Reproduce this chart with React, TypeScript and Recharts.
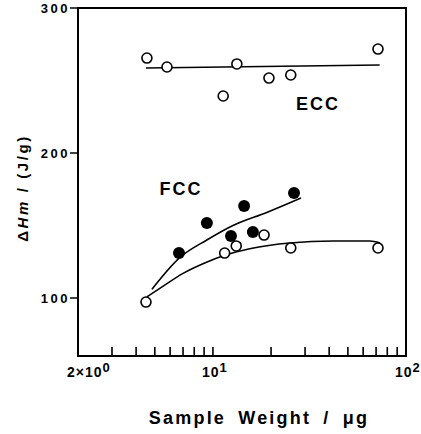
import React from "react";
import {
  ComposedChart,
  XAxis,
  YAxis,
  Scatter,
  Line,
  ReferenceArea,
} from "recharts";

// ECC (open circles, upper group)
const eccX = [4.55, 5.78, 11.3, 13.3, 19.5, 25.3, 71.6];
const eccY = [265.5, 259.3, 239.3, 261.4, 251.7, 253.8, 271.7];
const eccFitX = [4.5, 73];
const eccFitY = [258.6, 260.7];

// FCC (filled circles)
const fccX = [6.67, 9.3, 12.4, 14.5, 16.1, 26.3];
const fccY = [131, 151.7, 142.8, 163.4, 145.5, 172.4];
const fccFitX = [4.83, 6.75, 9.3, 12.7, 19.0, 28.6];
const fccFitY = [106, 128, 140, 150, 159, 169];

// lower open circles
const lowX = [4.5, 11.5, 13.2, 18.4, 25.3, 71.6];
const lowY = [97.2, 131, 135.9, 143.4, 134.5, 134.5];
const lowFitX = [4.55, 5.5, 7, 9, 11.5, 15.5, 25, 42, 65, 73.4];
const lowFitY = [100.7, 108, 117, 124, 129.5, 134, 138, 139.3, 139.3, 138];

const xTicks = [2, 3, 4, 5, 6, 7, 8, 9, 10, 20, 30, 40, 50, 60, 70, 80, 90, 100];
const xTickLabels: Record<number, [string, string]> = {
  2: ["2\u00d710", "0"],
  10: ["10", "1"],
  100: ["10", "2"],
};
const yTicks = [100, 200, 300];

const zip = (xs: number[], ys: number[]) => xs.map((x, i) => ({ x, y: ys[i] }));

const FONT = "'Liberation Sans', Arial, sans-serif";

const XTick = (props: any) => {
  const { x, y, payload } = props;
  const v = payload.value;
  const lab = xTickLabels[v];
  return (
    <g>
      {v !== 2 && v !== 100 && (
        <line x1={x} x2={x} y1={y} y2={y - 9} stroke="#000" strokeWidth={1.6} />
      )}
      {lab && (
        <text
          x={x - 11}
          y={y + 21}
          textAnchor="start"
          fontFamily={FONT}
          fontWeight="bold"
          fontSize={14}
          letterSpacing={1}
          fill="#000"
        >
          {lab[0]}
          <tspan dy={-5} fontSize={13}>
            {lab[1]}
          </tspan>
        </text>
      )}
    </g>
  );
};

const YTick = (props: any) => {
  const { x, y, payload } = props;
  return (
    <g>
      <line x1={x - 8} x2={x} y1={y} y2={y} stroke="#000" strokeWidth={1.5} />
      <text
        x={x - 8}
        y={y + 5}
        textAnchor="end"
        fontFamily={FONT}
        fontWeight="bold"
        fontSize={13}
        letterSpacing={2.5}
        fill="#000"
      >
        {payload.value}
      </text>
    </g>
  );
};

const OpenDot = (p: any) => (
  <circle cx={p.cx} cy={p.cy} r={5} fill="#fff" stroke="#000" strokeWidth={1.6} />
);
const FilledDot = (p: any) => <circle cx={p.cx} cy={p.cy} r={6} fill="#000" />;

export default function App() {
  return (
    <div style={{ position: "absolute", left: 0, top: 0, width: 421, height: 434, background: "#fff" }}>
      <ComposedChart
        width={421}
        height={434}
        margin={{ top: 8, right: 15, bottom: 0, left: 0 }}
      >
        <XAxis
          type="number"
          dataKey="x"
          scale="log"
          domain={[2, 100]}
          ticks={xTicks}
          interval={0}
          allowDataOverflow
          height={78}
          tickLine={false}
          tickSize={0}
          tickMargin={0}
          axisLine={{ stroke: "#000", strokeWidth: 2 }}
          tick={<XTick />}
        />
        <YAxis
          type="number"
          dataKey="y"
          domain={[60, 300]}
          ticks={yTicks}
          interval={0}
          width={78}
          tickLine={false}
          tickSize={0}
          tickMargin={0}
          axisLine={{ stroke: "#000", strokeWidth: 2 }}
          tick={<YTick />}
        />
        <ReferenceArea x1={2} x2={100} y1={60} y2={300} fill="none" stroke="#000" strokeWidth={2} />
        <Line data={zip(eccFitX, eccFitY)} dataKey="y" type="linear" dot={false} stroke="#000" strokeWidth={1.5} isAnimationActive={false} />
        <Line data={zip(fccFitX, fccFitY)} dataKey="y" type="monotone" dot={false} stroke="#000" strokeWidth={1.5} isAnimationActive={false} />
        <Line data={zip(lowFitX, lowFitY)} dataKey="y" type="monotone" dot={false} stroke="#000" strokeWidth={1.5} isAnimationActive={false} />
        <Scatter data={zip(eccX, eccY)} dataKey="y" shape={<OpenDot />} isAnimationActive={false} />
        <Scatter data={zip(lowX, lowY)} dataKey="y" shape={<OpenDot />} isAnimationActive={false} />
        <Scatter data={zip(fccX, fccY)} dataKey="y" shape={<FilledDot />} isAnimationActive={false} />
      </ComposedChart>
      <svg
        width={421}
        height={434}
        style={{ position: "absolute", left: 0, top: 0, pointerEvents: "none" }}
      >
        <text x={318} y={110} textAnchor="middle" fontFamily={FONT} fontWeight="bold" fontSize={18} letterSpacing={2}>
          ECC
        </text>
        <text x={181} y={195} textAnchor="middle" fontFamily={FONT} fontWeight="bold" fontSize={18} letterSpacing={2}>
          FCC
        </text>
        <text
          x={259}
          y={424}
          textAnchor="middle"
          fontFamily={FONT}
          fontWeight="bold"
          fontSize={18}
          letterSpacing={2.2}
          wordSpacing={5}
        >
          Sample Weight / μg
        </text>
        <text
          transform="translate(28,188) rotate(-90)"
          textAnchor="middle"
          fontFamily={FONT}
          fontWeight="bold"
          fontSize={15}
          letterSpacing={2.6}
        >
          Δ<tspan fontStyle="italic">Hm</tspan> / (J/g)
        </text>
      </svg>
    </div>
  );
}
